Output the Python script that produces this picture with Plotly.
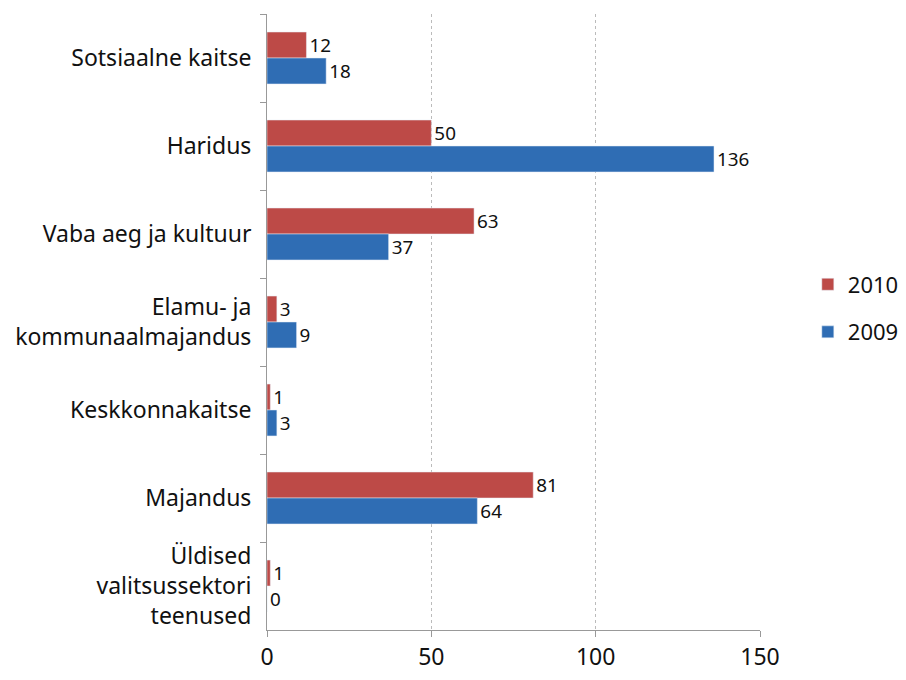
import plotly.graph_objects as go

categories = [
    "Sotsiaalne kaitse",
    "Haridus",
    "Vaba aeg ja kultuur",
    "Elamu- ja<br>kommunaalmajandus",
    "Keskkonnakaitse",
    "Majandus",
    "Üldised<br>valitsussektori<br>teenused",
]
values_2010 = [12, 50, 63, 3, 1, 81, 1]
values_2009 = [18, 136, 37, 9, 3, 64, 0]
x_ticks = [0, 50, 100, 150]

font = "Noto Sans, Open Sans, sans-serif"

fig = go.Figure(
    data=[
        go.Bar(
            name="2010",
            legendgroup="a",
            y=categories,
            x=values_2010,
            orientation="h",
            marker=dict(color="#BD4A47"),
            text=values_2010,
            textposition="outside",
            cliponaxis=False,
            textfont=dict(size=24, color="#111111"),
        ),
        go.Bar(
            name="2009",
            legendgroup="b",
            y=categories,
            x=values_2009,
            orientation="h",
            marker=dict(color="#2F6DB4"),
            text=values_2009,
            textposition="outside",
            cliponaxis=False,
            textfont=dict(size=24, color="#111111"),
        ),
    ]
)

# page body has an 8px margin, so the figure is drawn a bit smaller
fig.update_layout(
    width=898,
    height=672,
    paper_bgcolor="white",
    plot_bgcolor="white",
    barmode="group",
    bargap=0.41,
    bargroupgap=0,
    margin=dict(l=259, r=146, t=6, b=50, autoexpand=False),
    font=dict(family=font, size=23, color="#111111"),
    showlegend=True,
    legend=dict(
        x=1.097,
        y=0.522,
        xanchor="left",
        yanchor="middle",
        font=dict(size=22),
        itemwidth=30,
        tracegroupgap=16,
    ),
    xaxis=dict(
        range=[0, 150],
        tickvals=x_ticks,
        showgrid=True,
        gridcolor="#BBBBBB",
        griddash="dot",
        gridwidth=1,
        showline=True,
        linecolor="#999999",
        ticks="outside",
        ticklen=6,
        tickcolor="#999999",
        tickfont=dict(size=23),
        ticklabelstandoff=0,
        zeroline=False,
        automargin=False,
    ),
    yaxis=dict(
        autorange="reversed",
        showline=True,
        linecolor="#999999",
        ticks="outside",
        tickson="boundaries",
        ticklen=6,
        tickcolor="#999999",
        tickfont=dict(size=23),
        ticklabelstandoff=10,
        automargin=False,
    ),
)

fig.write_html("out.html")
